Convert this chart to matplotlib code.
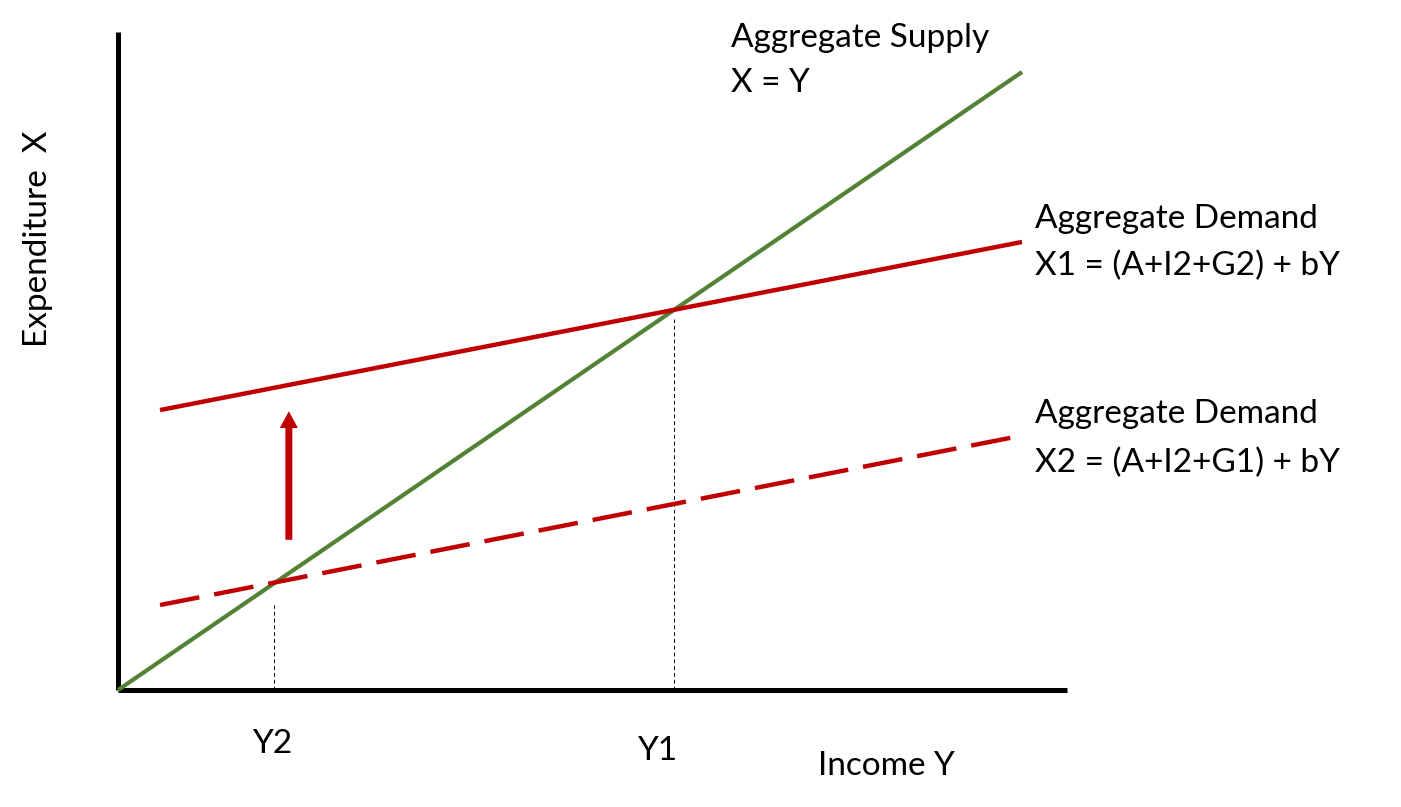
import matplotlib
matplotlib.use("Agg")
import matplotlib.pyplot as plt
from matplotlib.patches import FancyArrowPatch, ArrowStyle

plt.rcParams["font.family"] = ["Lato", "DejaVu Sans"]

GREEN = "#548235"
RED = "#C00000"

# Aggregate supply X = Y
as_income = [0.0, 10.0]
as_expend = [0.0, 10.0]

# Aggregate demand lines
ad1_income = [0.465, 10.0]
ad1_expend = [4.53, 7.25]
ad2_income = [0.465, 9.87]
ad2_expend = [1.375, 4.08]

# Equilibria and guide lines
eq_income = [1.73, 6.15]
eq_guide_top = [1.38, 6.0]
eq_labels = ["Y2", "Y1"]
eq_label_x = [1.70, 5.96]
eq_label_y = [-1.02, -1.13]

# Shift arrow
shift_income = 1.89
shift_from = 2.43
shift_to = 4.51

axis_x_max = 10.5
axis_y_max = 10.65

fig = plt.figure(figsize=(14.01, 8.07), dpi=100)
ax = fig.add_axes([0, 0, 1, 1])
ax.set_xlim(-1.3053, 14.192)
ax.set_ylim(-1.893, 11.165)
ax.set_axis_off()

# axes
ax.plot([0, 0], [0, axis_y_max], color="black", lw=3.6, solid_capstyle="butt")
ax.plot([0, axis_x_max], [0, 0], color="black", lw=3.6, solid_capstyle="butt")

# guide lines at equilibria
for xi, top in zip(eq_income, eq_guide_top):
    ax.plot([xi, xi], [0, top], color="black", lw=0.7, dashes=(4, 3))

ax.plot(as_income, as_expend, color=GREEN, lw=3.0, solid_capstyle="butt")
ax.plot(ad1_income, ad1_expend, color=RED, lw=3.2, solid_capstyle="butt")
ax.plot(ad2_income, ad2_expend, color=RED, lw=3.2, dashes=(9, 3.4),
        dash_capstyle="butt")

arrow = FancyArrowPatch((shift_income, shift_from), (shift_income, shift_to),
                        arrowstyle=ArrowStyle.Simple(head_length=12, head_width=13,
                                                     tail_width=5),
                        mutation_scale=1, shrinkA=0, shrinkB=0,
                        color=RED, lw=0)
ax.add_patch(arrow)

fs = 24
# labels
ax.text(6.78, 10.41, "Aggregate Supply", fontsize=fs, va="baseline")
ax.text(6.78, 9.68, "X = Y", fontsize=fs, va="baseline")
ax.text(10.14, 7.476, "Aggregate Demand", fontsize=fs, va="baseline")
ax.text(10.14, 6.715, "X1 = (A+I2+G2) + bY", fontsize=fs, va="baseline")
ax.text(10.14, 4.32, "Aggregate Demand", fontsize=fs, va="baseline")
ax.text(10.14, 3.53, "X2 = (A+I2+G1) + bY", fontsize=fs, va="baseline")

for lab, lx, ly in zip(eq_labels, eq_label_x, eq_label_y):
    ax.text(lx, ly, lab, fontsize=fs, ha="center", va="baseline")

ax.text(7.74, -1.375, "Income Y", fontsize=fs, va="baseline")
ax.text(-0.89, 7.30, "Expenditure  X", fontsize=fs, rotation=90,
        ha="center", va="center")

fig.savefig("out.png", dpi=100)
